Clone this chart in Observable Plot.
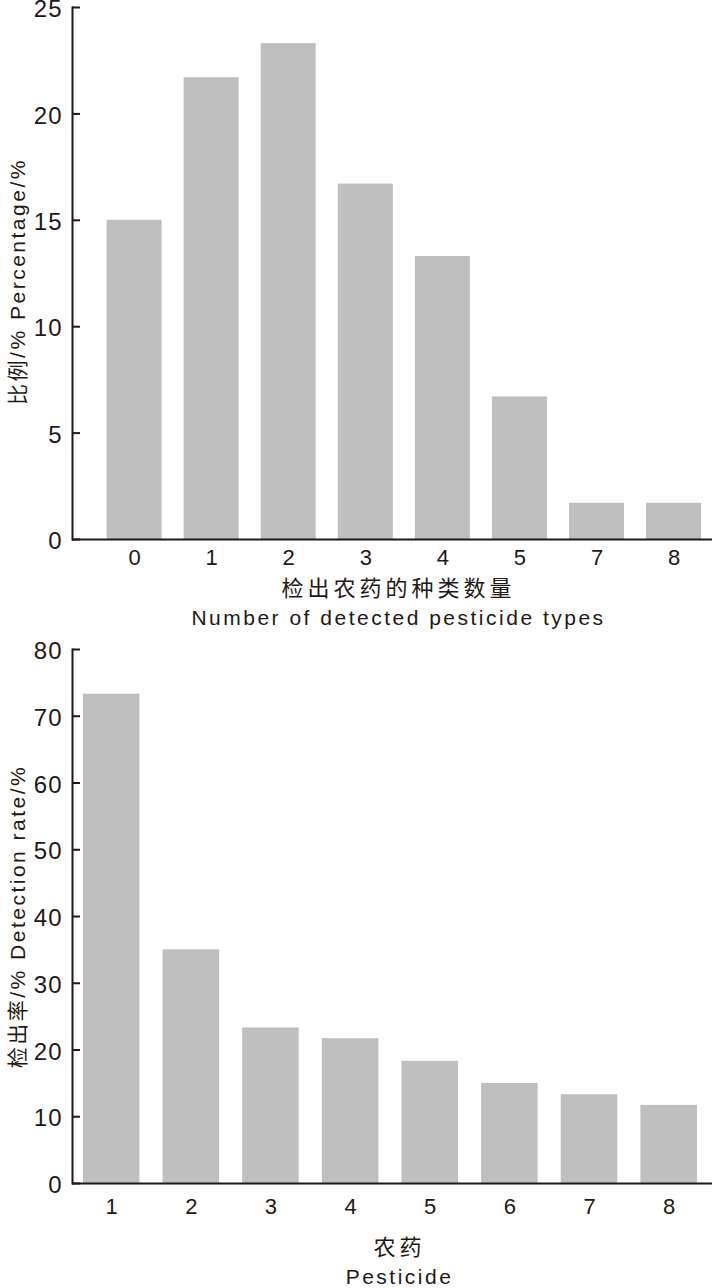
<!DOCTYPE html>
<html>
<head>
<meta charset="utf-8">
<script src="https://cdn.jsdelivr.net/npm/d3@7"></script>
<script src="https://cdn.jsdelivr.net/npm/@observablehq/plot@0.6"></script>
<style>
  html, body { margin: 0; padding: 0; background: #fff; }
  #charts svg { display: block; overflow: visible; }
</style>
</head>
<body>
<div id="charts"></div>
<script>
// ---- data ----
const typeCounts = ["0", "1", "2", "3", "4", "5", "7", "8"];
const typeShares = [15.0, 21.7, 23.3, 16.7, 13.3, 6.7, 1.7, 1.7];
const topYTicks = [0, 5, 10, 15, 20, 25];

const pesticides = ["1", "2", "3", "4", "5", "6", "7", "8"];
const detectionRates = [73.3, 35.0, 23.3, 21.7, 18.3, 15.0, 13.3, 11.7];
const bottomYTicks = [0, 10, 20, 30, 40, 50, 60, 70, 80];

const topYTitle = "比例/% Percentage/%";
const topXTitleCn = "检出农药的种类数量";
const topXTitleEn = "Number of detected pesticide types";
const bottomYTitle = "检出率/% Detection rate/%";
const bottomXTitleCn = "农药";
const bottomXTitleEn = "Pesticide";

// ---- style ----
const INK = "#231815";
const BAR = "#bfbfbf";
const FONT = "'Liberation Sans', Arial, Helvetica, 'Noto Sans CJK SC', sans-serif";

function makeChart(o) {
  const data = o.cats.map((c, i) => ({cat: c, value: o.vals[i]}));
  const svg = Plot.plot({
    width: 712,
    height: o.height,
    marginTop: o.marginTop,
    marginBottom: o.marginBottom,
    marginLeft: 72,
    marginRight: 0,
    style: {fontFamily: FONT, color: INK, background: "#fff", overflow: "visible"},
    x: {type: "band", domain: o.cats, paddingInner: o.paddingInner, paddingOuter: o.paddingOuter, align: o.align, round: false, label: null},
    y: {domain: o.yDomain, label: null},
    marks: [
      Plot.barY(data, {x: "cat", y: "value", fill: BAR}),
      Plot.ruleY([0], {stroke: INK, strokeWidth: 2}),
      Plot.frame({anchor: "left", stroke: INK, strokeWidth: 2}),
      Plot.axisY({ticks: o.yTicks, tickSize: 8, dx: 8, fill: "none", stroke: INK, strokeWidth: 2, label: null}),
      Plot.axisY({ticks: o.yTicks, tickSize: 0, tickPadding: 10, dy: 2, stroke: "none", fill: INK, fontSize: 24, label: null}),
      Plot.axisX({tickSize: 0, tickPadding: o.xTickPadding, fill: INK, fontSize: 22, label: null}),
      Plot.text([o.yTitle], {text: d => d, frameAnchor: "left", textAnchor: "middle", rotate: -90, dx: -54, dy: o.yTitleDy, fontSize: 21, fill: INK, lineAnchor: "middle"}),
      Plot.text([o.xTitleCn], {text: d => d, frameAnchor: "bottom", dx: o.titleDx, dy: o.dyCn, fontSize: 22, fill: INK, lineAnchor: "middle"}),
      Plot.text([o.xTitleEn], {text: d => d, frameAnchor: "bottom", dx: o.titleDx, dy: o.dyEn, fontSize: 21, fill: INK, lineAnchor: "middle"})
    ]
  });
  const s = d3.select(svg);
  s.selectAll("text").each(function () {
    const t = this.textContent;
    if (t === o.yTitle || t === o.xTitleEn) this.style.letterSpacing = "2.5px";
    else if (t === o.xTitleCn) this.style.letterSpacing = "4px";
  });
  s.selectAll('g[aria-label="y-axis tick label"] text').style("letter-spacing", "1px");
  return svg;
}

const root = document.getElementById("charts");
root.appendChild(makeChart({
  cats: typeCounts, vals: typeShares, yDomain: [0, 25], yTicks: topYTicks,
  height: 640, marginTop: 7, marginBottom: 101,
  paddingInner: 0.286, paddingOuter: 0.295, align: 0.76,
  xTickPadding: 10, yTitle: topYTitle, xTitleCn: topXTitleCn, xTitleEn: topXTitleEn,
  yTitleDy: 8, titleDx: 6, dyCn: 49, dyEn: 79
}));
root.appendChild(makeChart({
  cats: pesticides, vals: detectionRates, yDomain: [0, 80], yTicks: bottomYTicks,
  height: 648, marginTop: 9, marginBottom: 105,
  paddingInner: 0.29, paddingOuter: 0.163, align: 0.42,
  xTickPadding: 15, yTitle: bottomYTitle, xTitleCn: bottomXTitleCn, xTitleEn: bottomXTitleEn,
  yTitleDy: 0, titleDx: 7, dyCn: 64, dyEn: 94
}));
</script>
</body>
</html>
